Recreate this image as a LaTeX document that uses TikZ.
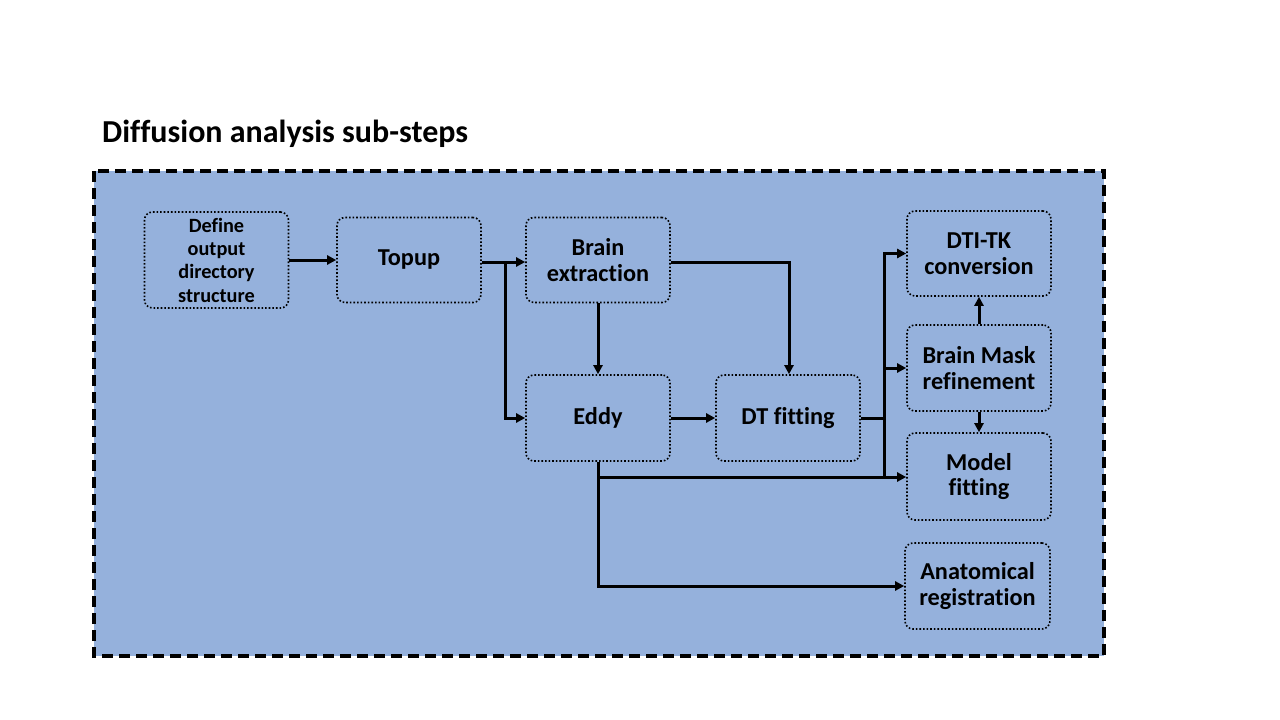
\documentclass[tikz,border=0pt]{standalone}
\usepackage{fontspec}
\setmainfont[Ligatures={NoCommon}]{Carlito}
\usetikzlibrary{arrows.meta}
\definecolor{panel}{RGB}{149,177,220}
\tikzset{
  stepbox/.style={draw=black, line width=1.6pt, dash pattern=on 1.6pt off 2pt, rounded corners=8pt, fill=panel,
    minimum width=144pt, minimum height=85pt, align=center, inner sep=2pt,
    font=\bfseries\fontsize{24.3}{25.5}\selectfont},
  smallbox/.style={stepbox, minimum height=96pt, font=\bfseries\fontsize{20.3}{23.3}\selectfont},
  conn/.style={line width=3pt, -{Triangle[length=9pt,width=9pt]}},
  plain/.style={line width=3pt}
}
\begin{document}
\begin{tikzpicture}[x=1pt,y=-1pt]
\useasboundingbox (0,0) rectangle (1280,720);
\fill[white] (0,0) rectangle (1280,720);
\node[anchor=base west, inner sep=0pt, font=\bfseries\fontsize{32}{36}\selectfont] (title) at (102,142) {Diffusion analysis sub-steps};
\draw[fill=panel, line width=3.2pt, dash pattern=on 11pt off 6pt] (94,171) rectangle (1104,656);
\node[smallbox] (def) at (216.5,260) {Define\\output\\directory\\structure};
\node[stepbox] (topup) at (409,260) {Topup};
\node[stepbox] (brain) at (598,260) {Brain\\extraction};
\node[stepbox, minimum height=86pt] (eddy) at (598,418) {Eddy};
\node[stepbox, minimum height=86pt] (dtfit) at (788,418) {DT fitting};
\node[stepbox] (dtitk) at (979,253.5) {DTI-TK\\conversion};
\node[stepbox, minimum height=86pt] (mask) at (979,368) {Brain Mask\\refinement};
\node[stepbox, minimum height=87pt] (model) at (979,476.5) {Model\\fitting};
\node[stepbox, minimum height=86pt, minimum width=145pt] (anat) at (977.5,586) {Anatomical\\registration};
% connectors
\draw[conn] (def.east) -- (topup.west);
\draw[conn] (topup.east |- 0,262) -- (brain.west |- 0,262);
\coordinate (split) at (505,262);
\draw[conn] (split) |- (eddy.west);
\draw[conn] (brain.south) -- (eddy.north);
\draw[conn] (brain.east |- 0,262) -| (dtfit.north -| 789,0);
\draw[conn] (eddy.east) -- (dtfit.west);
\coordinate (dtj) at (884,418);
\draw[plain] (dtfit.east) -- (dtj);
\draw[conn] (884,477) |- (dtitk.west);
\draw[conn] (dtj |- mask.west) -- (mask.west);
\coordinate (edj) at (598,477);
\draw[conn] (eddy.south) |- (model.west |- 0,477);
\draw[conn] (edj) |- (anat.west);
\draw[conn] (mask.north) -- (dtitk.south);
\draw[conn] (mask.south) -- (model.north);
\end{tikzpicture}
\end{document}
